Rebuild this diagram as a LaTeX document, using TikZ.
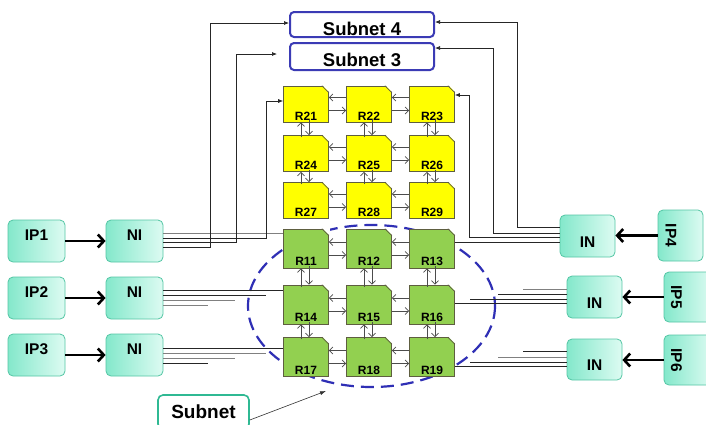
\documentclass[tikz,border=0pt]{standalone}
\usepackage{fontspec}
\setmainfont{Liberation Sans}
\usetikzlibrary{arrows.meta}

\definecolor{rtyellow}{HTML}{FFFF00}
\definecolor{rtgreen}{HTML}{92D050}
\definecolor{rtedge}{HTML}{5E5E40}
\definecolor{mintA}{HTML}{84E8CB}
\definecolor{mintB}{HTML}{DDFBF2}
\definecolor{mintedge}{HTML}{55C6A5}
\definecolor{netblue}{HTML}{3B3BB5}
\definecolor{ellblue}{HTML}{2F2FB5}
\definecolor{subteal}{HTML}{2FB993}

\tikzset{
  router/.style={rectangle, draw=rtedge, line width=0.7pt,
    minimum width=45pt, inner sep=1.5pt, text depth=0pt,
    font=\bfseries\fontsize{12}{12}\selectfont},
  yrouter/.style={router, fill=rtyellow, minimum height=36pt, text height=32pt},
  grouter/.style={router, fill=rtgreen, minimum height=39pt, text height=34.5pt},
  link/.style={draw=black!70, line width=0.75pt, -{Straight Barb[length=3.5pt,width=7pt]}},
  mint/.style={rounded corners=5pt, draw=mintedge, line width=0.8pt,
    left color=mintA, right color=mintB, inner sep=3pt,
    font=\bfseries\fontsize{15.5}{15.5}\selectfont},
  ipbox/.style={mint, minimum width=57pt, minimum height=42pt, text height=11pt, text depth=12.3pt},
  inbox/.style={mint, minimum width=55pt, minimum height=42pt, text height=22.7pt, text depth=0pt},
  ipside/.style={mint, rotate=-90, text depth=0pt},
  feed/.style={draw=black, line width=2.6pt, -{Straight Barb[length=6pt,width=13pt]}},
  netbox/.style={draw=netblue, line width=2pt, rounded corners=4pt, fill=white,
    minimum width=144pt, inner sep=0pt, text depth=0pt,
    font=\bfseries\fontsize{18.5}{18.5}\selectfont},
  wire/.style={draw=black!85, line width=0.7pt},
  wireg/.style={draw=black!50, line width=0.9pt},
  tip/.style={-{Latex[length=5pt,width=4pt]}}
}

\newcommand{\dogear}[1]{%
  \fill[white] ([xshift=-7pt,yshift=1pt]#1.north east) -- ([xshift=1pt,yshift=1pt]#1.north east)
    -- ([xshift=1pt,yshift=-7pt]#1.north east) -- cycle;
  \draw[rtedge, line width=0.7pt] ([xshift=-7pt]#1.north east) -- ([yshift=-7pt]#1.north east);
}

\begin{document}
\begin{tikzpicture}[x=1pt,y=-1pt]
\path[use as bounding box, fill=white] (0,0) rectangle (706,424);

\draw[draw=ellblue, line width=2.2pt, dash pattern=on 13pt off 7pt]
  (371.5,306) ellipse [x radius=123.5, y radius=81];

\node[netbox, minimum height=25pt, text height=22.6pt] (S4) at (362,24.5) {Subnet 4};
\node[netbox, minimum height=27pt, text height=20.2pt] (S3) at (362,56.5) {Subnet 3};
\coordinate (s3tip) at (277,54);

\foreach \y [count=\i from 0] in {104,153.5,200.5}
  \foreach \x [count=\j] in {306,369,432}
  {
    \pgfmathtruncatemacro\k{20+3*\i+\j}
    \node[yrouter] (R\k) at (\x,\y) {R\k};
    \dogear{R\k}
  }
\foreach \y [count=\i from 0] in {248.5,304.5,357}
  \foreach \x [count=\j] in {306,369,432}
  {
    \pgfmathtruncatemacro\k{10+3*\i+\j}
    \node[grouter] (R\k) at (\x,\y) {R\k};
    \dogear{R\k}
  }

\foreach \a/\b in {21/22,22/23,24/25,25/26,27/28,28/29,11/12,12/13,14/15,15/16,17/18,18/19}
{
  \draw[link] ([yshift=6.5pt]R\b.west) -- ([yshift=6.5pt]R\a.east);
  \draw[link] ([yshift=-6.5pt]R\a.east) -- ([yshift=-6.5pt]R\b.west);
}
\foreach \a/\b in {21/24,24/27,22/25,25/28,23/26,26/29,11/14,14/17,12/15,15/18,13/16,16/19}
{
  \draw[link] ([xshift=-5pt,yshift=-2pt]R\b.north) -- ([xshift=-5pt]R\a.south);
  \draw[link] ([xshift=3pt,yshift=2pt]R\a.south) -- ([xshift=3pt]R\b.north);
}

\node[ipbox] (IP1) at (36.5,241) {IP1};
\node[ipbox] (IP2) at (36.5,298) {IP2};
\node[ipbox] (IP3) at (36.5,355) {IP3};
\node[ipbox] (NI1) at (134.5,241) {NI};
\node[ipbox] (NI2) at (134.5,298) {NI};
\node[ipbox] (NI3) at (134.5,355) {NI};
\draw[feed] (IP1) -- (NI1);
\draw[feed] (IP2) -- (NI2);
\draw[feed] (IP3) -- (NI3);

\node[inbox] (IN1) at (587.5,236) {IN};
\node[inbox] (IN2) at (594.5,297) {IN};
\node[inbox, minimum height=41pt] (IN3) at (594.5,359.5) {IN};
\node[ipside, minimum width=51pt, minimum height=45pt, text height=29.7pt] (IP4) at (680.5,235.5) {IP4};
\node[ipside, minimum width=50pt, minimum height=48pt, text height=33.7pt] (IP5) at (688,297) {IP5};
\node[ipside, minimum width=50pt, minimum height=48pt, text height=33.7pt] (IP6) at (688,360) {IP6};
\draw[feed] (IP4.south) -- (IP4.south -| IN1.east);
\draw[feed] (IP5.south) -- (IP5.south -| IN2.east);
\draw[feed] (IP6.south) -- (IP6.south -| IN3.east);

\draw[wireg] (NI1.east |- 0,233) -- (R11.west |- 0,233);
\draw[wire,tip] (NI1.east |- 0,238) -| (266,101) -- (R21.west |- 0,101);
\draw[wire,tip] (NI1.east |- 0,242) -| (236,54) -- (s3tip);
\draw[wire,tip] (NI1.east |- 0,247) -| (210,23) -- (S4.west |- 0,23);

\draw[wire] (NI2.east |- 0,290) -- (R14.west |- 0,290);
\draw[wire] (NI2.east |- 0,295) -- ++(103,0);
\draw[wireg] (NI2.east |- 0,300) -- ++(72,0);
\draw[wireg] (NI2.east |- 0,305) -- ++(45,0);

\draw[wire] (NI3.east |- 0,348) -- (R17.west |- 0,348);
\draw[wireg] (NI3.east |- 0,353) -- ++(103,0);
\draw[wireg] (NI3.east |- 0,358) -- ++(72,0);
\draw[wire] (NI3.east |- 0,363) -- ++(45,0);

\draw[wire,tip] (IN1.west |- 0,227) -| (517,22) -- (S4.east |- 0,22);
\draw[wire,tip] (IN1.west |- 0,233) -| (493,48) -- (S3.east |- 0,48);
\draw[wire,tip] (IN1.west |- 0,237) -| (469,95) -- (R23.east |- 0,95);
\draw[wire] (IN1.west |- 0,242) -- (R13.east |- 0,242);

\draw[wireg] (IN2.west |- 0,289) -- ++(-44,0);
\draw[wire] (IN2.west |- 0,294) -- ++(-69,0);
\draw[wire] (IN2.west |- 0,299) -- ++(-97,0);
\draw[wire] (IN2.west |- 0,303) -- (R16.east |- 0,303);

\draw[wire] (IN3.west |- 0,351) -- ++(-44,0);
\draw[wireg] (IN3.west |- 0,357) -- ++(-69,0);
\draw[wire] (IN3.west |- 0,362) -- ++(-97,0);
\draw[wire] (IN3.west |- 0,366) -- (R19.east |- 0,366);

\node[draw=subteal, line width=1.6pt, rounded corners=5pt, fill=white,
  minimum width=91pt, minimum height=34pt, text height=13.6pt, text depth=0pt,
  font=\bfseries\fontsize{19}{19}\selectfont] (Sub) at (203.5,412) {Subnet};
\coordinate (ellpt) at (326,391);
\draw[draw=black!80, line width=0.6pt, -{Latex[length=6pt,width=4pt]}] (Sub.east |- 0,420) -- (ellpt);
\end{tikzpicture}
\end{document}
